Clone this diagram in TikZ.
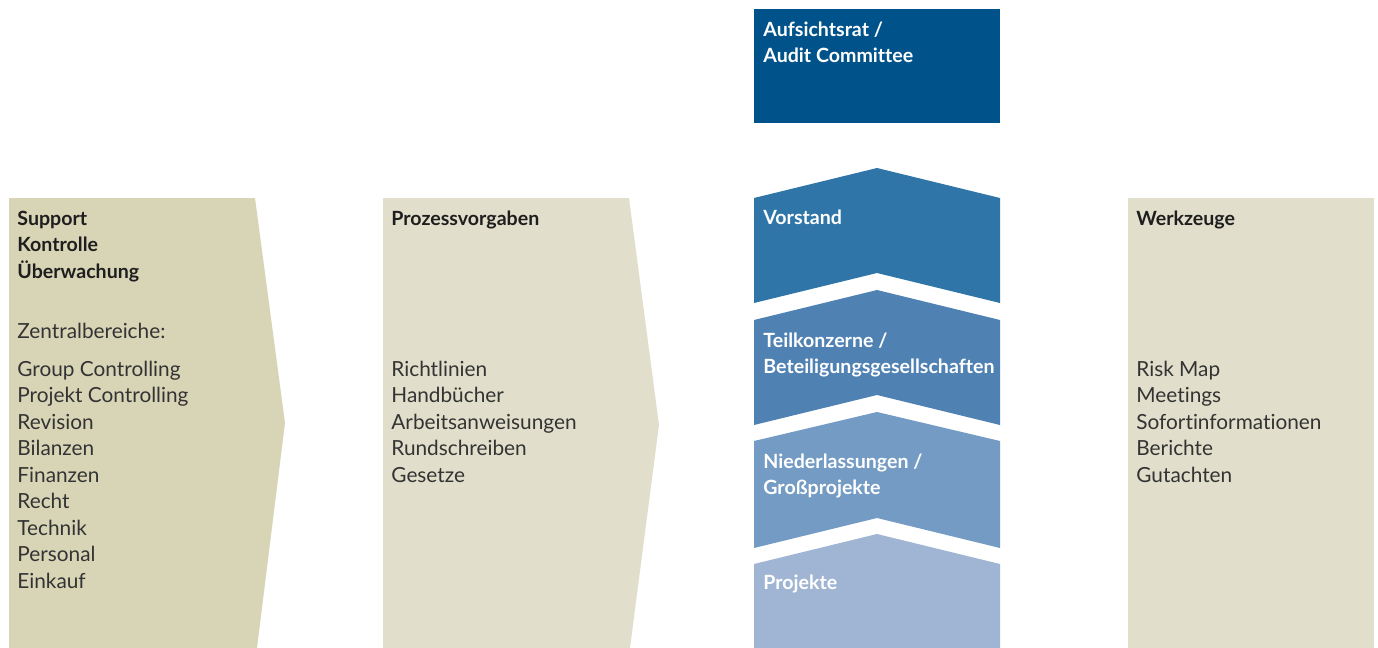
\documentclass[tikz,border=0pt]{standalone}
\usepackage{fontspec}
\setmainfont{Lato}[Ligatures={NoCommon,NoContextual}]
\definecolor{sand}{HTML}{D8D5B7}
\definecolor{paper}{HTML}{E1DFCB}
\definecolor{inktext}{HTML}{333333}
\definecolor{inkhead}{HTML}{1E1E1E}
\definecolor{blueA}{HTML}{00538A}
\definecolor{blueB}{HTML}{2F75A8}
\definecolor{blueC}{HTML}{4F82B3}
\definecolor{blueD}{HTML}{739BC4}
\definecolor{blueE}{HTML}{A0B5D3}

\begin{document}
\begin{tikzpicture}[x=0.5pt, y=-0.5pt,
	txt/.style={anchor=base west, inner sep=0, align=left,
	font=\fontsize{10.4}{13.25}\selectfont, text=inktext},
	head/.style={txt, font=\fontsize{9.8}{13.25}\selectfont\bfseries, text=inkhead},
	lvl/.style={head, text=white}]
\useasboundingbox (0,0) rectangle (1378,648);
\fill[sand] (9,198) -- (255,198) -- (285,423) -- (257,648) -- (9,648) -- cycle;
\fill[paper] (383,198) -- (629,198) -- (659,425) -- (630,648) -- (383,648) -- cycle;
\fill[paper] (1128,198) rectangle (1374,648);
\fill[blueA] (754,9) rectangle (1000,123);
\fill[blueB] (754,198) -- (877,168) -- (1000,198) -- (1000,303) -- (877,273) -- (754,303) -- cycle;
\fill[blueC] (754,320) -- (877,290) -- (1000,320) -- (1000,425) -- (877,395) -- (754,425) -- cycle;
\fill[blueD] (754,441) -- (877,412) -- (1000,441) -- (1000,548) -- (877,518) -- (754,548) -- cycle;
\fill[blueE] (754,564) -- (877,534) -- (1000,564) -- (1000,648) -- (754,648) -- cycle;
\node[head] (support) at (17,278) {Support\\Kontrolle\\Überwachung};
\node[txt] (zentral) at (17,338) {Zentralbereiche:};
\node[txt] (bereiche) at (17,588) {Group Controlling\\Projekt Controlling\\Revision\\Bilanzen\\Finanzen\\Recht\\Technik\\Personal\\Einkauf};
\node[head] (prozess) at (391,225) {Prozessvorgaben};
\node[txt] (vorgaben) at (391,482) {Richtlinien\\Handbücher\\Arbeitsanweisungen\\Rundschreiben\\Gesetze};
\node[head] (werkzeuge) at (1136,225) {Werkzeuge};
\node[txt] (tools) at (1136,482) {Risk Map\\Meetings\\Sofortinformationen\\Berichte\\Gutachten};
\node[lvl] (aufsicht) at (763,62.5) {Aufsichtsrat /\\Audit Committee};
\node[lvl] (vorstand) at (763,224) {Vorstand};
\node[lvl] (teil) at (763,373.5) {Teilkonzerne /\\Beteiligungsgesellschaften};
\node[lvl] (nieder) at (763,494.5) {Niederlassungen /\\Großprojekte};
\node[lvl] (projekte) at (763,589) {Projekte};
\end{tikzpicture}
\end{document}
